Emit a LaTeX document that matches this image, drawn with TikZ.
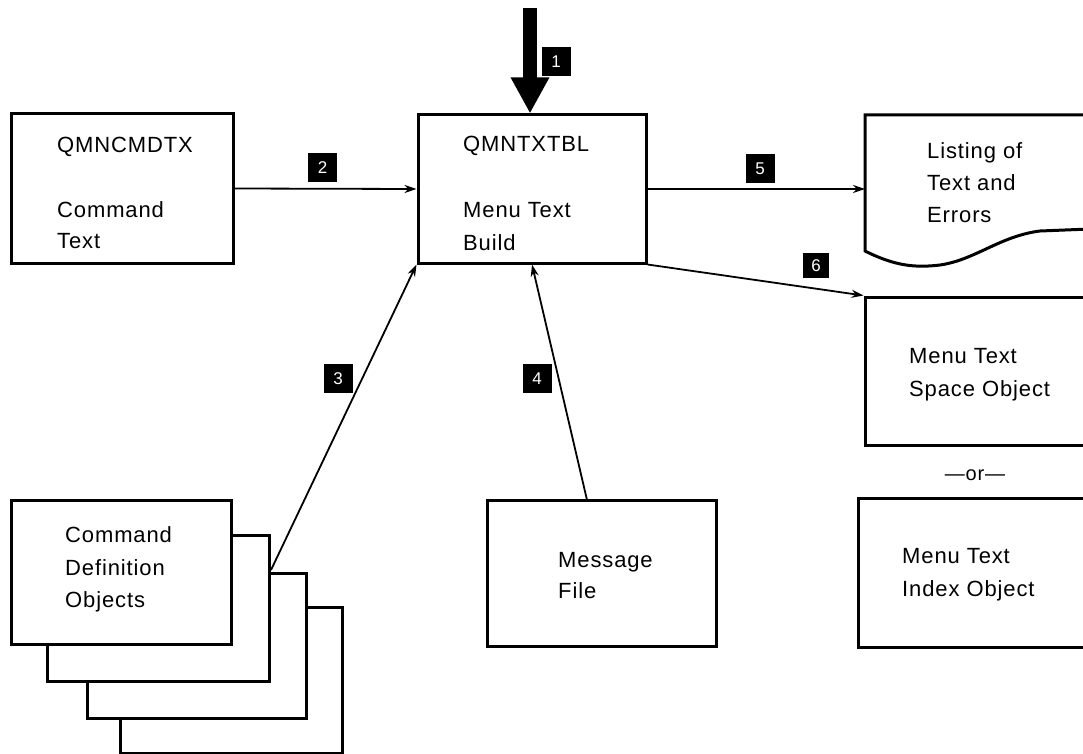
\documentclass[tikz,border=0pt]{standalone}
\usepackage{fontspec}
\setmainfont{Liberation Sans}[LetterSpace=4]
\usetikzlibrary{arrows.meta}
\begin{document}
\begin{tikzpicture}[x=1pt, y=-1pt,
  box/.style={draw, line width=3pt, fill=white, inner sep=0pt},
  txt/.style={anchor=base west, inner sep=0pt, font=\fontsize{22}{26}\selectfont},
  numbox/.style={fill=black, text=white, inner sep=0pt, minimum width=29pt, minimum height=29pt,
                 font=\fontsize{17}{17}\selectfont},
  flow/.style={line width=1.8pt, -{Stealth[length=12pt, width=8pt]}}]
\clip (0,0) rectangle (1083,754);
\fill[white] (0,0) rectangle (1083,754);

% main program
\node[box, minimum width=228pt, minimum height=148pt] (bld) at (532,189) {};
\node[txt] (bld1) at (463,152) {QMNTXTBL};
\node[txt] (bld2) at (463,217) {Menu Text};
\node[txt] (bld3) at (463,250) {Build};

% command text input
\node[box, minimum width=222pt, minimum height=149pt] (cmd) at (122,188.5) {};
\node[txt] (cmd1) at (57,153) {QMNCMDTX};
\node[txt] (cmd2) at (57,217) {Command};
\node[txt] (cmd3) at (57,248) {Text};

% listing output (document shape)
\draw[line width=3pt, fill=white] (1090,115) -- (865,115) -- (865,251)
  .. controls (895,266) and (915,268) .. (940,265)
  .. controls (975,260) and (1000,236) .. (1040,231) -- (1090,229);
\coordinate (lst) at (865,189);
\node[txt] (lst1) at (927,159) {Listing of};
\node[txt] (lst2) at (927,190) {Text and};
\node[txt] (lst3) at (927,222) {Errors};

% space object / index object
\node[box, minimum width=235pt, minimum height=148pt] (spc) at (982.5,371) {};
\node[txt] (spc1) at (909,363) {Menu Text};
\node[txt] (spc2) at (909,396) {Space Object};
\node[anchor=base, inner sep=0pt, font=\fontsize{20}{24}\selectfont] (or) at (975,480) {\textemdash or\textemdash};
\node[box, minimum width=242pt, minimum height=149pt] (idx) at (979,572.5) {};
\node[txt] (idx1) at (902,563) {Menu Text};
\node[txt] (idx2) at (902,596) {Index Object};

% message file
\node[box, minimum width=229pt, minimum height=146pt] (msg) at (601.5,573) {};
\node[txt] (msg1) at (558,567) {Message};
\node[txt] (msg2) at (558,598) {File};

% stacked command definition objects
\node[box, minimum width=222pt, minimum height=146pt] (cd4) at (231,680) {};
\node[box, minimum width=219pt, minimum height=145pt] (cd3) at (196.5,645.5) {};
\node[box, minimum width=222pt, minimum height=146pt] (cd2) at (158,608) {};
\node[box, minimum width=220pt, minimum height=144pt] (cd1) at (121,572) {};
\node[txt] (cd1a) at (65,542) {Command};
\node[txt] (cd1b) at (65,575) {Definition};
\node[txt] (cd1c) at (65,607) {Objects};

% connectors
\coordinate (entry) at (530,8);
\draw[line width=14pt, -{Triangle[length=36pt, width=36pt]}] (entry) -- (entry |- bld.north);
\draw[flow] (cmd.east) -- (bld.west);
\draw[flow] (bld.east) -- (lst);
\draw[flow] (bld.south east) -- (spc.north west);
\coordinate (s3) at (271,570);
\draw[flow] (s3) -- (bld.south west);
\coordinate (s4) at (587,500);
\draw[flow] (s4) -- (bld.south);

% step numbers
\node[numbox] (n1) at (556,62) {1};
\node[numbox] (n2) at (322.5,167.5) {2};
\node[numbox] (n3) at (338,378.5) {3};
\node[numbox] (n4) at (537,378.5) {4};
\node[numbox] (n5) at (760,168.5) {5};
\node[numbox, minimum width=26pt, minimum height=25pt] (n6) at (816,265.5) {6};
\end{tikzpicture}
\end{document}
